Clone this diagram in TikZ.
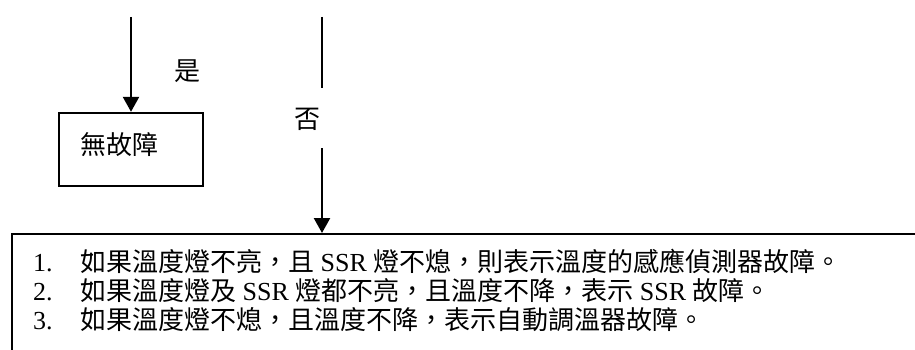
\documentclass[tikz,border=0pt]{standalone}
\usepackage{fontspec}
\setmainfont{Liberation Serif}
\newfontfamily\cjk{Noto Sans CJK TC}
\newcommand\zhtext[1]{{\cjk #1}}
\usetikzlibrary{arrows.meta}
\begin{document}
\begin{tikzpicture}[x=1pt,y=-1pt,
  line width=2.4pt,
  arr/.style={-{Triangle[width=16pt,length=15pt]}},
  zh/.style={font=\cjk\fontsize{26}{28}\selectfont, inner sep=0pt},
  lat/.style={font=\fontsize{26}{28}\selectfont, inner sep=0pt},
]
\clip (0,0) rectangle (915,350);
% left branch
\node[draw, minimum width=144pt, minimum height=73pt, inner sep=0pt] (ok) at (131,149.5) {};
\node[zh] (oktxt) at (119.5,145) {無故障};
\coordinate (ystart) at (131,17);
\draw[arr] (ystart) -- (ok.north);
\node[zh] (yes) at (187.5,71.5) {是};
% bottom box
\node[draw, anchor=north west, minimum width=1000pt, minimum height=200pt, inner sep=0pt] (list) at (11,233) {};
% right branch
\coordinate (nstart) at (322,17);
\coordinate (ngapa) at (322,88);
\coordinate (ngapb) at (322,148);
\draw (nstart) -- (ngapa);
\draw[arr] (ngapb) -- (ngapb |- list.north);
\node[zh] (no) at (307.5,119.5) {否};
% list lines
\node[lat, anchor=base west] (n1) at (32,271) {1.};
\node[lat, anchor=base west] (t1) at (79,271) {\zhtext{如果溫度燈不亮，且} SSR \zhtext{燈不熄，則表示溫度的感應偵測器故障。}};
\node[lat, anchor=base west] (n2) at (32,300) {2.};
\node[lat, anchor=base west] (t2) at (79,300) {\zhtext{如果溫度燈及} SSR \zhtext{燈都不亮，且溫度不降，表示} SSR \zhtext{故障。}};
\node[lat, anchor=base west] (n3) at (32,329) {3.};
\node[lat, anchor=base west] (t3) at (79,329) {\zhtext{如果溫度燈不熄，且溫度不降，表示自動調溫器故障。}};
\end{tikzpicture}
\end{document}
